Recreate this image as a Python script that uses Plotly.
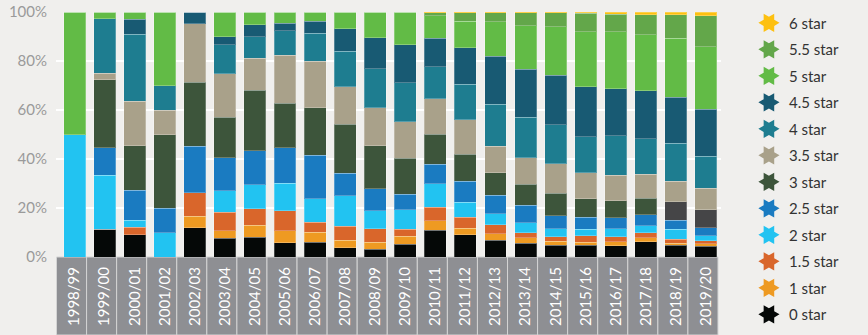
import plotly.graph_objects as go

years = ["1998/99", "1999/00", "2000/01", "2001/02", "2002/03", "2003/04", "2004/05",
         "2005/06", "2006/07", "2007/08", "2008/09", "2009/10", "2010/11", "2011/12",
         "2012/13", "2013/14", "2014/15", "2015/16", "2016/17", "2017/18", "2018/19", "2019/20"]

star_0 = [0, 11.3, 9.1, 0, 11.9, 7.6, 8.0, 5.8, 6.0, 3.8, 3.1, 5.2, 11.0, 9.0, 6.9, 5.6, 4.8, 4.8, 4.6, 6.2, 4.8, 4.4]
star_1 = [0, 0, 0, 0, 4.8, 3.1, 4.9, 4.9, 4.1, 3.0, 3.0, 3.2, 3.8, 2.8, 2.5, 2.2, 1.7, 1.2, 1.6, 1.6, 0.9, 1.0]
star_1_5 = [0, 0, 3.0, 0, 9.5, 7.5, 6.7, 8.2, 4.1, 5.7, 5.5, 2.9, 5.5, 4.4, 3.8, 2.1, 1.8, 2.7, 2.0, 2.0, 1.6, 1.3]
star_2 = [50, 22.2, 3.0, 10, 0, 8.9, 9.9, 11.3, 9.5, 12.5, 7.2, 7.9, 9.5, 6.1, 4.5, 4.0, 3.3, 2.6, 3.4, 2.9, 4.1, 1.9]
star_2_5 = [0, 11.1, 12.1, 10, 19.0, 13.4, 13.8, 14.3, 17.8, 9.2, 9.1, 6.5, 8.0, 8.7, 7.5, 7.3, 5.3, 4.9, 4.4, 4.6, 3.7, 3.4]
star_3 = [0, 27.8, 18.2, 30, 26.2, 16.5, 24.7, 18.2, 19.4, 20.0, 17.5, 14.6, 12.4, 10.9, 9.1, 8.5, 9.1, 7.6, 7.0, 6.7, 7.5, 7.2]
star_3_5 = [0, 2.8, 18.2, 10, 23.8, 17.8, 13.1, 19.6, 19.0, 15.3, 15.5, 14.9, 14.4, 14.1, 11.0, 10.8, 12.0, 10.6, 10.3, 9.8, 8.4, 8.8]
star_4 = [0, 22.2, 27.3, 10, 0, 11.9, 8.8, 10.1, 11.4, 14.5, 16.0, 15.9, 13.0, 14.6, 17.1, 16.5, 16.0, 14.7, 16.2, 14.5, 15.4, 13.2]
star_4_5 = [0, 0, 6.1, 0, 4.8, 3.1, 4.8, 3.1, 4.9, 9.2, 12.6, 15.6, 11.7, 14.8, 19.5, 19.7, 20.2, 20.4, 19.2, 19.6, 18.8, 19.2]
star_5 = [50, 2.8, 3.0, 30, 0, 10.2, 5.3, 4.5, 3.8, 6.8, 10.5, 13.3, 9.1, 10.9, 14.1, 17.7, 19.7, 22.5, 23.3, 22.8, 24.1, 25.4]
star_5_5 = [0, 0, 0, 0, 0, 0, 0, 0, 0, 0, 0, 0, 1.3, 3.3, 3.6, 5.2, 5.8, 7.5, 7.1, 8.1, 9.5, 12.6]
star_6 = [0, 0, 0, 0, 0, 0, 0, 0, 0, 0, 0, 0, 0.3, 0.4, 0.4, 0.4, 0.3, 0.5, 0.9, 1.2, 1.2, 1.6]

names = ["0 star", "1 star", "1.5 star", "2 star", "2.5 star", "3 star",
         "3.5 star", "4 star", "4.5 star", "5 star", "5.5 star", "6 star"]
series = [star_0, star_1, star_1_5, star_2, star_2_5, star_3,
          star_3_5, star_4, star_4_5, star_5, star_5_5, star_6]
colors = ["#050807", "#EE9A22", "#D9662B", "#22C3F1", "#1A7BC1", "#3D553B",
          "#A9A18A", "#1E7D90", "#185A73", "#62BB46", "#63A74A", "#FDC010"]
grey_3star = "#454547"

FONT = "Lato"
fig = go.Figure()

for name, vals, col in zip(names, series, colors):
    if name == "3 star":
        mcol = [col] * (len(years) - 2) + [grey_3star, grey_3star]
    else:
        mcol = col
    fig.add_trace(go.Bar(
        x=years, y=vals, name=name, showlegend=False,
        marker=dict(color=mcol, line=dict(color="rgba(255,255,255,0.25)", width=1)),
    ))

# legend entries with star markers (top: 6 star)
for name, col in reversed(list(zip(names, colors))):
    fig.add_trace(go.Scatter(
        x=[None], y=[None], mode="markers", name=name, legendgroup=name,
        marker=dict(symbol="hexagram", size=16, color=col, angle=90),
    ))

# grey label boxes under the axis
for i, _ in enumerate(years):
    fig.add_shape(type="rect", xref="x", yref="paper",
                  x0=i - 0.6, x1=i + 0.4, y0=-78 / 245, y1=0,
                  fillcolor="#8E8F93", line=dict(color="#D4D4D4", width=1), layer="below")

fig.update_layout(
    width=868, height=335, autosize=False,
    margin=dict(l=56, r=147, t=12, b=78, autoexpand=False),
    paper_bgcolor="#F0EFED", plot_bgcolor="#F0EFED",
    barmode="stack", barnorm="percent", bargap=0.27,
    font=dict(family=FONT),
    legend=dict(x=1.042, xanchor="left", y=1.022, yanchor="top",
                font=dict(size=15, color="#333333", family=FONT),
                traceorder="grouped", tracegroupgap=4, itemsizing="trace",
                maxheight=335,
                bgcolor="rgba(0,0,0,0)"),
    xaxis=dict(tickangle=-90, tickfont=dict(size=15, color="white", family=FONT),
               showgrid=False, ticks="", ticklabelstandoff=6, fixedrange=True),
    yaxis=dict(range=[0, 100], dtick=20, ticksuffix="%", showgrid=True,
               gridcolor="white", gridwidth=2, zeroline=False,
               tickfont=dict(size=15, color="#9A9A9A", family=FONT),
               ticks="", ticklabelstandoff=8, fixedrange=True),
)

fig.write_html("out.html")
